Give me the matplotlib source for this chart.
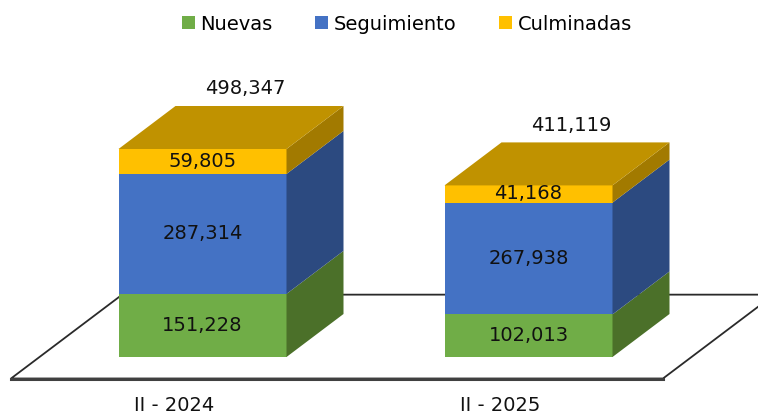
import matplotlib.pyplot as plt
from matplotlib.patches import Polygon, Patch

periodos = ["II - 2024", "II - 2025"]
series = ["Nuevas", "Seguimiento", "Culminadas"]
nuevas = [151228, 102013]
seguimiento = [287314, 267938]
culminadas = [59805, 41168]

valores = [nuevas, seguimiento, culminadas]
frente = ["#70AD47", "#4472C4", "#FFC000"]
lado = ["#4B7029", "#2C4A80", "#A27A00"]
tapa = "#C09200"

plt.rcParams['font.family'] = ['DejaVu Sans']

fig = plt.figure(figsize=(7.58, 4.16), dpi=100)
ax = fig.add_axes([0, 0, 1, 1])

# escala: 326 px entre categorias, 208 px para 498,347
px_x = 1 / 326
px_y = 498347 / 208
ax.set_xlim(-202.5 * px_x, (758 - 202.5) * px_x)
ax.set_ylim(-59 * px_y, 357 * px_y)
ax.axis('off')

w = 168 * px_x   # ancho de barra
dx = 57 * px_x   # profundidad
dy = 43 * px_y

# piso
piso = [(-0.5 - 0.5 * dx, -0.5 * dy), (1.5 - 0.5 * dx, -0.5 * dy),
        (1.5 + 1.45 * dx, 1.45 * dy), (-0.5 + 1.45 * dx, 1.45 * dy)]
ax.add_patch(Polygon(piso, closed=True, fc='white', ec='#2a2a2a', lw=1.3, zorder=1))
ax.plot([piso[0][0], piso[1][0]], [piso[0][1], piso[1][1]], color='#404040', lw=2.2, zorder=1)

for i in range(len(periodos)):
    base = 0
    x0 = i - w / 2
    x1 = i + w / 2
    for s in range(len(series)):
        h = valores[s][i]
        ax.add_patch(Polygon([(x0, base), (x1, base), (x1, base + h), (x0, base + h)],
                             closed=True, fc=frente[s], ec='none', zorder=2))
        ax.add_patch(Polygon([(x1, base), (x1 + dx, base + dy), (x1 + dx, base + h + dy), (x1, base + h)],
                             closed=True, fc=lado[s], ec='none', zorder=2))
        ax.text(i, base + h / 2, "{:,}".format(h), ha='center', va='center',
                fontsize=14, color='#111111', zorder=3)
        base += h
    ax.add_patch(Polygon([(x0, base), (x1, base), (x1 + dx, base + dy), (x0 + dx, base + dy)],
                         closed=True, fc=tapa, ec='none', zorder=2))
    ax.annotate("{:,}".format(base), (i + 0.75 * dx, base + dy), xytext=(0, 17),
                textcoords='offset pixels', ha='center', va='center', fontsize=14, color='#111111')
    ax.annotate(periodos[i], (i - 0.5 * dx, -0.5 * dy), xytext=(0, -27),
                textcoords='offset pixels', ha='center', va='center', fontsize=14, color='#111111')

handles = [Patch(facecolor=frente[s], label=series[s]) for s in range(len(series))]
fig.legend(handles=handles, loc='center', bbox_to_anchor=(0.537, 0.942), ncol=3,
           frameon=False, fontsize=14, handlelength=0.65, handleheight=0.65,
           handletextpad=0.3, columnspacing=2.2)

fig.savefig('out.png', dpi=100)
